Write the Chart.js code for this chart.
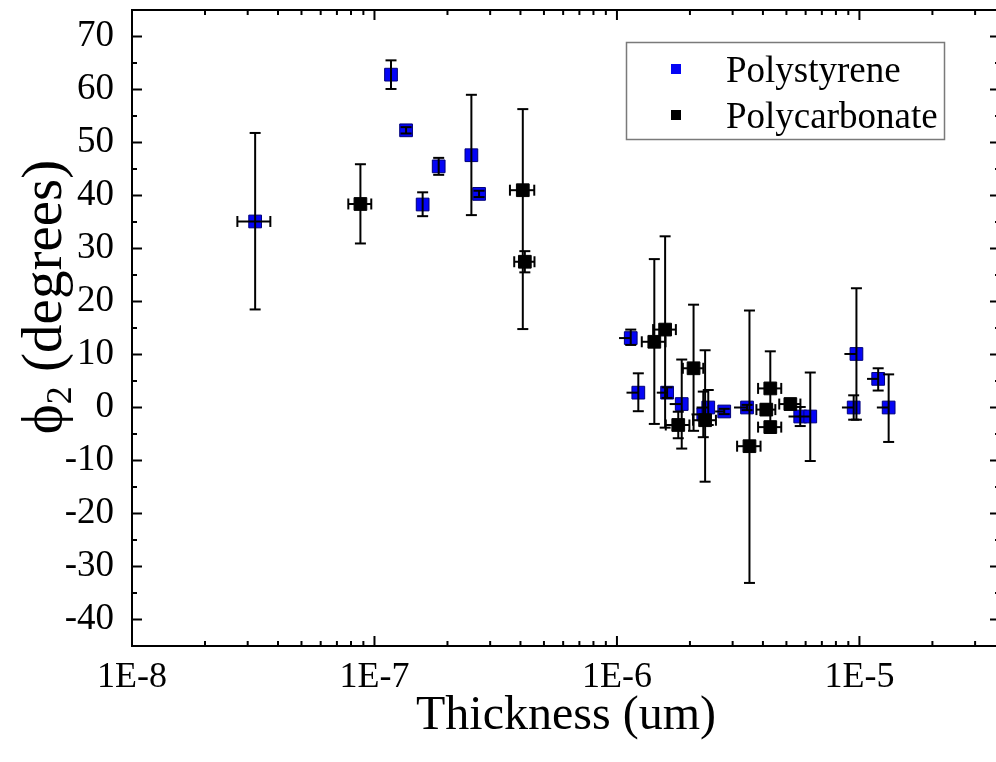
<!DOCTYPE html>
<html><head><meta charset="utf-8">
<script src="https://cdn.jsdelivr.net/npm/chart.js@4.4.1/dist/chart.umd.min.js"></script>
<style>html,body{margin:0;padding:0;background:#fff;overflow:hidden;width:996px;height:762px}canvas{display:block}</style>
</head><body>
<canvas id="c" width="1012" height="762" style="width:1012px;height:762px"></canvas>
<script>
// ---- data ----
const seriesNames = ['Polystyrene', 'Polycarbonate'];
const psX = [3.22e-8, 1.17e-7, 1.35e-7, 1.58e-7, 1.84e-7, 2.51e-7, 2.70e-7, 1.14e-6, 1.225e-6, 1.61e-6, 1.85e-6, 2.27e-6, 2.38e-6, 2.77e-6, 3.44e-6, 5.70e-6, 6.27e-6, 9.47e-6, 9.72e-6, 1.195e-5, 1.32e-5];
const psY = [35.1, 62.8, 52.3, 38.3, 45.5, 47.6, 40.3, 13.1, 2.8, 2.8, 0.65, -1.3, 0.0, -0.75, 0.0, -1.7, -1.7, 0.0, 10.1, 5.4, 0.0];
const psYErrPlus  = [16.7, 2.7, 0.6, 2.3, 1.6, 11.4, 0.6, 1.6, 3.65, 1.0, 8.4, 4.3, 3.3, 0.5, 0.5, 1.8, 8.3, 2.3, 12.4, 2.0, 6.25];
const psYErrMinus = [16.6, 2.7, 0.6, 2.2, 1.6, 11.3, 0.6, 1.3, 3.5, 1.0, 8.4, 4.3, 3.3, 0.5, 0.5, 1.8, 8.4, 2.3, 12.4, 2.2, 6.5];
const psXErrMinus = [0.5e-8, 0, 0, 0, 0, 0, 0, 0.12e-6, 0.13e-6, 0.15e-6, 0.2e-6, 0.24e-6, 0.25e-6, 0.23e-6, 0.4e-6, 0.6e-6, 0.65e-6, 1.0e-6, 1.05e-6, 1.2e-6, 1.4e-6];
const psXErrPlus  = [0.5e-8, 0, 0, 0, 0, 0, 0, 0, 0, 0, 0, 0, 0, 0, 0, 0, 0, 0, 0, 0, 0];

const pcX = [8.75e-8, 4.09e-7, 4.17e-7, 1.426e-6, 1.58e-6, 1.79e-6, 2.07e-6, 2.31e-6, 3.52e-6, 4.13e-6, 4.29e-6, 4.29e-6, 5.19e-6];
const pcY = [38.4, 41.0, 27.5, 12.4, 14.7, -3.3, 7.4, -2.4, -7.3, -0.4, 3.6, -3.7, 0.65];
const pcYErrPlus  = [7.5, 15.3, 2.0, 15.6, 17.6, 2.5, 12.0, 13.2, 25.6, 1.0, 7.0, 1.0, 1.0];
const pcYErrMinus = [7.45, 26.2, 2.0, 15.5, 18.5, 2.5, 11.8, 11.6, 25.8, 1.0, 7.0, 1.0, 1.0];
const pcXErr = [0.95e-8, 0.47e-7, 0.4e-7, 0.16e-6, 0.17e-6, 0.2e-6, 0.2e-6, 0.25e-6, 0.39e-6, 0.37e-6, 0.47e-6, 0.47e-6, 0.52e-6];

const xDecades = [1e-8, 1e-7, 1e-6, 1e-5];
const xMinorFactors = [2, 3, 4, 5, 6, 7, 8, 9];
const xMin = 1e-8, xMax = 3.8e-5;
const yMin = -45, yMax = 75, yStep = 5, yLabelStep = 10;
const xTitle = 'Thickness (um)';
const yTitleMain = 'ϕ', yTitleSub = '2', yTitleRest = ' (degrees)';

// ---- build ----
const FONT = '"Liberation Serif","Times New Roman",serif';
const xTickValues = [];
xDecades.forEach(d => {
  xTickValues.push(d);
  xMinorFactors.forEach(f => { const v = +(d * f).toPrecision(6); if (v <= xMax) xTickValues.push(v); });
});

function pts(xs, ys, eyp, eym, exm, exp) {
  return xs.map((x, i) => ({x: x, y: ys[i], eyp: eyp[i], eym: eym[i], exm: exm[i], exp: exp[i]}));
}
const isDecade = v => { const e = Math.log10(v); return Math.abs(e - Math.round(e)) < 1e-6; };

const errorBars = {
  id: 'errorBars',
  afterDatasetsDraw(chart) {
    const ctx = chart.ctx, xs = chart.scales.x, ys = chart.scales.y;
    const ln = (a, b, c, d) => { ctx.beginPath(); ctx.moveTo(a, b); ctx.lineTo(c, d); ctx.stroke(); };
    ctx.save();
    ctx.strokeStyle = '#000'; ctx.lineWidth = 2;
    chart.data.datasets.forEach(ds => {
      ds.data.forEach(p => {
        const px = xs.getPixelForValue(p.x), py = ys.getPixelForValue(p.y);
        if (p.eyp > 0 || p.eym > 0) {
          const t = ys.getPixelForValue(p.y + p.eyp), b = ys.getPixelForValue(p.y - p.eym);
          ln(px, t, px, b); ln(px - 5.5, t, px + 5.5, t); ln(px - 5.5, b, px + 5.5, b);
        }
        if (p.exm > 0 || p.exp > 0) {
          const l = xs.getPixelForValue(p.x - p.exm), r = xs.getPixelForValue(p.x + p.exp);
          ln(l, py, r, py);
          if (p.exm > 0 && p.exp > 0) { ln(l, py - 5.5, l, py + 5.5); ln(r, py - 5.5, r, py + 5.5); }
        }
      });
    });
    ctx.restore();
  }
};

const frame = {
  id: 'frame',
  afterDraw(chart) {
    const ctx = chart.ctx, a = chart.chartArea, xs = chart.scales.x, ys = chart.scales.y;
    const ln = (x1, y1, x2, y2) => { ctx.beginPath(); ctx.moveTo(x1, y1); ctx.lineTo(x2, y2); ctx.stroke(); };
    ctx.save();
    ctx.strokeStyle = '#000'; ctx.lineWidth = 2;
    ctx.strokeRect(a.left, a.top, a.right - a.left, a.bottom - a.top);
    ys.ticks.forEach(t => {
      const y = ys.getPixelForValue(t.value);
      const len = (t.value % yLabelStep === 0) ? 10 : 5;
      ln(a.left, y, a.left + len, y); ln(a.right, y, a.right - len, y);
    });
    xs.ticks.forEach(t => {
      const x = xs.getPixelForValue(t.value);
      const len = isDecade(t.value) ? 10 : 5;
      ln(x, a.bottom, x, a.bottom - len); ln(x, a.top, x, a.top + len);
    });
    // y axis title with subscript
    const big = 57, small = 36;
    ctx.fillStyle = '#000';
    ctx.textBaseline = 'alphabetic'; ctx.textAlign = 'left';
    ctx.font = big + 'px ' + FONT; const w1 = ctx.measureText(yTitleMain).width;
    const w3 = ctx.measureText(yTitleRest).width;
    ctx.font = small + 'px ' + FONT; const w2 = ctx.measureText(yTitleSub).width;
    const total = w1 + w2 + w3;
    ctx.translate(61, 297);
    ctx.rotate(-Math.PI / 2);
    let x0 = -total / 2;
    ctx.font = big + 'px ' + FONT; ctx.fillText(yTitleMain, x0, 0); x0 += w1;
    ctx.font = small + 'px ' + FONT; ctx.fillText(yTitleSub, x0, 10); x0 += w2;
    ctx.font = big + 'px ' + FONT; ctx.fillText(yTitleRest, x0, 0);
    ctx.restore();
  }
};

const legendBox = {
  id: 'legendBox',
  afterDraw(chart) {
    const ctx = chart.ctx;
    ctx.save();
    ctx.strokeStyle = '#7a7a7a'; ctx.lineWidth = 1.5;
    ctx.strokeRect(626.5, 42.5, 318, 97);
    ctx.font = '37px ' + FONT; ctx.textBaseline = 'middle'; ctx.fillStyle = '#000';
    chart.data.datasets.forEach((ds, i) => {
      const cy = 69 + i * 46;
      ctx.fillStyle = ds.backgroundColor;
      ctx.fillRect(671, cy - 5, 10, 10);
      ctx.fillStyle = '#000';
      ctx.fillText(ds.label, 726, cy + 3);
    });
    ctx.restore();
  }
};

new Chart(document.getElementById('c'), {
  type: 'scatter',
  data: {
    datasets: [
      { label: seriesNames[0], data: pts(psX, psY, psYErrPlus, psYErrMinus, psXErrMinus, psXErrPlus),
        pointStyle: 'rect', pointRadius: 9, pointHoverRadius: 9,
        backgroundColor: '#0505f5', borderColor: '#00007a', borderWidth: 1, order: 2 },
      { label: seriesNames[1], data: pts(pcX, pcY, pcYErrPlus, pcYErrMinus, pcXErr, pcXErr),
        pointStyle: 'rect', pointRadius: 9, pointHoverRadius: 9,
        backgroundColor: '#000000', borderColor: '#000000', borderWidth: 1, order: 1 }
    ]
  },
  options: {
    responsive: false, animation: false, devicePixelRatio: 1,
    layout: { padding: { top: 5, right: 12, left: 0, bottom: 0 } },
    plugins: { legend: { display: false }, tooltip: { enabled: false } },
    scales: {
      x: {
        type: 'logarithmic', min: xMin, max: xMax,
        afterBuildTicks(s) { s.ticks = xTickValues.map(v => ({ value: v, major: isDecade(v) })); },
        afterFit(s) { s.height = 116; s.paddingLeft = 0; s.paddingRight = 0; },
        grid: { display: false }, border: { display: false },
        ticks: { autoSkip: false, maxRotation: 0, minRotation: 0, padding: 2, color: '#000',
          font: { family: FONT, size: 36 },
          callback(v) { return isDecade(v) ? '1E' + Math.round(Math.log10(v)) : ''; } },
        title: { display: true, text: xTitle, color: '#000', font: { family: FONT, size: 48 },
          padding: { top: 0, bottom: 17 } }
      },
      y: {
        type: 'linear', min: yMin, max: yMax,
        afterFit(s) { s.width = 132; s.paddingTop = 0; s.paddingBottom = 0; },
        grid: { display: false }, border: { display: false },
        ticks: { stepSize: yStep, autoSkip: false, padding: 10, color: '#000',
          font: { family: FONT, size: 37 },
          callback(v) { return (v % yLabelStep === 0 && v > yMin && v < yMax) ? String(v) : ''; } },
        title: { display: false }
      }
    }
  },
  plugins: [errorBars, frame, legendBox]
});
</script>
</body></html>
